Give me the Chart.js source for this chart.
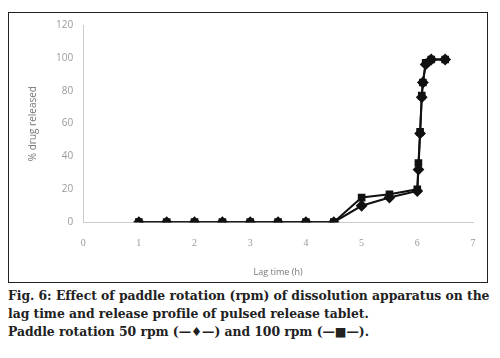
<!DOCTYPE html>
<html>
<head>
<meta charset="utf-8">
<script src="https://cdn.jsdelivr.net/npm/chart.js@4.4.0/dist/chart.umd.min.js"></script>
<style>
  body { margin: 0; background: #fff; width: 500px; height: 358px; overflow: hidden; }
  #cadre { position: absolute; left: 8px; top: 12px; width: 478px; height: 269px; border: 1px solid #222; }
  #legende { position: absolute; left: 8px; top: 287px; width: 492px; font-family: "DejaVu Serif", serif; font-weight: bold; font-size: 12.4px; line-height: 18px; color: #222; letter-spacing: -0.05px; }
</style>
</head>
<body>
<div id="cadre"><canvas id="graphique"></canvas></div>
<div id="legende">Fig. 6: Effect of paddle rotation (rpm) of dissolution apparatus on the<br>lag time and release profile of pulsed release tablet.<br>Paddle rotation 50 rpm (&#8212;&#9830;&#8212;) and 100 rpm (&#8212;&#9632;&#8212;).</div>
<script>
// temps de latence (h)
const temps = [1, 1.5, 2, 2.5, 3, 3.5, 4, 4.5, 5, 5.5, 6, 6.02, 6.05, 6.08, 6.1, 6.15, 6.25, 6.5];
// % libéré
const rpm50 = [0, 0, 0, 0, 0, 0, 0, 0, 10, 15, 19, 32, 54, 76, 85, 96, 99, 99];
const rpm100 = [0, 0, 0, 0, 0, 0, 0, 0, 15, 17, 20, 36, 55, 77, 85, 97, 99, 99];
const ticksX = [0, 1, 2, 3, 4, 5, 6, 7];
const ticksY = [0, 20, 40, 60, 80, 100, 120];

const points = (ys) => temps.map((t, i) => ({ x: t, y: ys[i] }));

const gris = '#9a9a9a';
const axe = '#cccccc';

const data = {
  datasets: [
    {
      label: '50 rpm',
      data: points(rpm50),
      showLine: true,
      borderColor: '#111',
      backgroundColor: '#111',
      borderWidth: 2,
      pointStyle: 'rectRot',
      pointRadius: 4.5,
    },
    {
      label: '100 rpm',
      data: points(rpm100),
      showLine: true,
      borderColor: '#111',
      backgroundColor: '#111',
      borderWidth: 2,
      pointStyle: 'rect',
      pointRadius: 4,
    }
  ]
};

const options = {
  responsive: false,
  animation: false,
  layout: { padding: { top: 11, right: 14, left: 14, bottom: 0 } },
  plugins: { legend: { display: false }, tooltip: { enabled: false } },
  scales: {
    x: {
      type: 'linear', min: 0, max: 7,
      afterBuildTicks: (s) => { s.ticks = ticksX.map(v => ({ value: v })); },
      grid: { display: false, drawOnChartArea: false, drawTicks: true, tickLength: 4, color: axe },
      border: { color: axe },
      ticks: { color: gris, font: { family: 'Liberation Serif', size: 10 }, padding: 11 },
      title: { display: true, text: 'Lag time (h)', color: '#777', font: { family: 'Open Sans', size: 9 }, padding: { top: 7 } }
    },
    y: {
      min: 0, max: 120,
      afterBuildTicks: (s) => { s.ticks = ticksY.map(v => ({ value: v })); },
      grid: { display: false, drawOnChartArea: false, drawTicks: true, tickLength: 4, color: axe },
      border: { color: axe },
      ticks: { color: gris, font: { family: 'Open Sans', size: 10 }, padding: 6 },
      title: { display: true, text: '% drug released', color: '#777', font: { family: 'Open Sans', size: 10 }, padding: { bottom: 11 } }
    }
  }
};

const canvas = document.getElementById('graphique');
canvas.width = 478;
canvas.height = 269;
new Chart(canvas.getContext('2d'), { type: 'scatter', data, options });
</script>
</body>
</html>
